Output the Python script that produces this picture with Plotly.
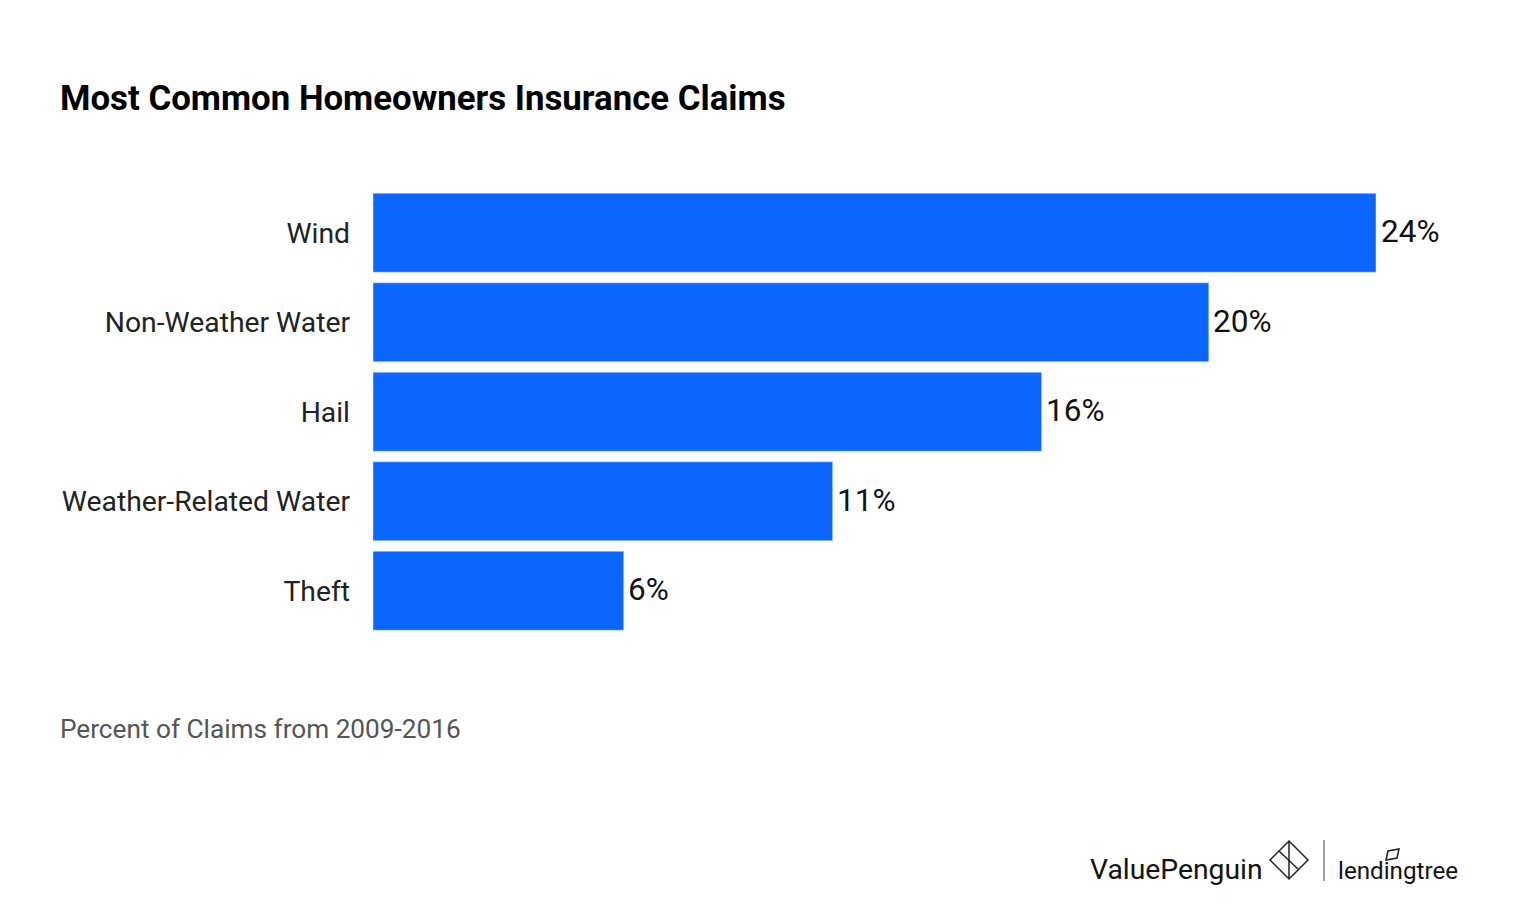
import plotly.graph_objects as go

categories = ["Wind", "Non-Weather Water", "Hail", "Weather-Related Water", "Theft"]
values = [24, 20, 16, 11, 6]
labels = ["24%", "20%", "16%", "11%", "6%"]

W, H = 1504, 902
OFF = 8  # page margin of the browser
def px(x): return (x - OFF) / W
def py(y): return 1 - (y - OFF) / H

def txt(x, y, text, size, color):
    return dict(x=px(x - 2), y=py(y), xref="paper", yref="paper", xanchor="left", yanchor="middle",
                text=text, showarrow=False, font=dict(family="Roboto", size=size, color=color))

def path(points, close=False):
    d = "M " + " L ".join(f"{px(a)} {py(b)}" for a, b in points)
    return d + (" Z" if close else "")

value_notes = [
    dict(x=v, y=c, xref="x", yref="y", text=t, showarrow=False, xanchor="left", yanchor="middle",
         xshift=2.5, yshift=1, font=dict(family="Roboto", size=31.5, color="#111111"))
    for c, v, t in zip(categories, values, labels)
]

fig = go.Figure(go.Bar(
    y=categories, x=values, orientation="h",
    marker=dict(color="#0a66ff"), width=0.883,
))
fig.update_layout(
    width=W, height=H, margin=dict(l=0, r=0, t=0, b=0),
    paper_bgcolor="white", plot_bgcolor="white", showlegend=False,
    font=dict(family="Roboto"),
    xaxis=dict(domain=[px(373), px(1376)], range=[0, 24], visible=False),
    yaxis=dict(domain=[py(635.5), py(188)], autorange="reversed",
               ticks="", ticklabelstandoff=22, showline=False,
               tickfont=dict(family="Roboto", size=28.3, color="#222222")),
    annotations=value_notes + [
        txt(60, 98, "<b>Most Common Homeowners Insurance Claims</b>", 34.8, "#000000"),
        txt(60, 729, "Percent of Claims from 2009-2016", 26.2, "#555555"),
        txt(1090, 869, "ValuePenguin", 28.3, "#111111"),
        txt(1338, 871, "lendingtree", 24.2, "#111111"),
    ],
    shapes=[
        dict(type="line", xref="paper", yref="paper", x0=px(1324), x1=px(1324), y0=py(840), y1=py(881),
             line=dict(color="#444444", width=1)),
        dict(type="path", xref="paper", yref="paper",
             path=path([(1270, 860), (1289, 841), (1308, 860), (1289, 879)], close=True),
             line=dict(color="#222222", width=1.5)),
        dict(type="path", xref="paper", yref="paper",
             path=path([(1289, 841), (1289, 879)]),
             line=dict(color="#222222", width=1.5)),
        dict(type="path", xref="paper", yref="paper",
             path=path([(1279, 851), (1298, 869)]),
             line=dict(color="#222222", width=1.5)),
        dict(type="path", xref="paper", yref="paper",
             path=path([(1386, 860), (1388, 851), (1399, 849), (1397, 858)], close=True),
             line=dict(color="#222222", width=1.5)),
    ],
)
fig.write_html("out.html")
